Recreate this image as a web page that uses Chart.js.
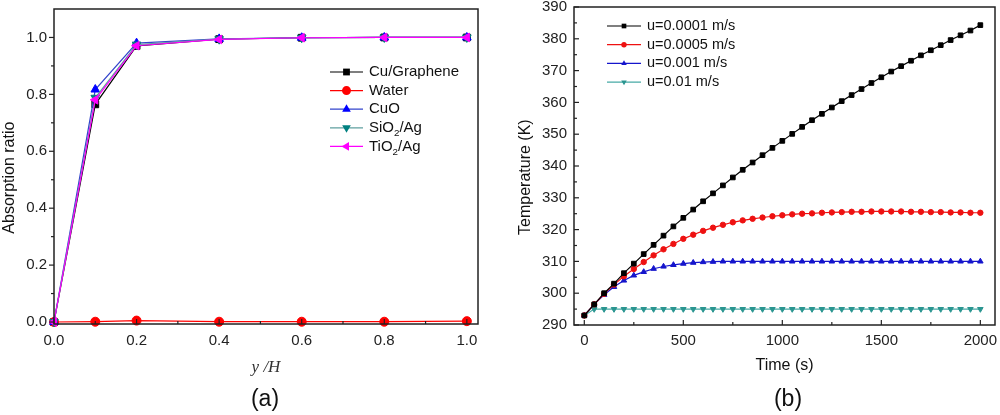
<!DOCTYPE html>
<html>
<head>
<meta charset="utf-8">
<script src="https://cdn.jsdelivr.net/npm/chart.js@4.4.1/dist/chart.umd.min.js"></script>
<style>
  body { margin: 0; background: #fff; }
  #wrap { position: relative; width: 1000px; height: 415px; font-family: "Liberation Sans", Arial, sans-serif; }
  .panel { position: absolute; top: 0; width: 500px; height: 415px; }
  .lab { position: absolute; top: 385px; font-size: 23px; color: #111; transform: translateX(-50%); }
</style>
</head>
<body>
<div id="wrap">
  <div class="panel" style="left:0"><canvas id="chartA"></canvas></div>
  <div class="panel" style="left:500px"><canvas id="chartB"></canvas></div>
  <div class="lab" style="left:265px">(a)</div>
  <div class="lab" style="left:788px">(b)</div>
</div>
<script>
// ---- panel (a): absorption ratio vs y/H
const posA = [0, 0.1, 0.2, 0.4, 0.6, 0.8, 1.0];
const cuGraphene = [0, 0.765, 0.970, 0.994, 0.999, 1.0, 1.0];
const water      = [0, 0.001, 0.005, 0.001, 0.001, 0.001, 0.003];
const cuo        = [0, 0.817, 0.980, 0.995, 0.999, 1.0, 1.0];
const sio2Ag     = [0, 0.788, 0.975, 0.994, 0.999, 1.0, 1.0];
const tio2Ag     = [0, 0.781, 0.971, 0.993, 0.999, 1.0, 1.0];
const namesA = ['Cu/Graphene', 'Water', 'CuO', 'SiO₂/Ag', 'TiO₂/Ag'];
const xTicksA = [0, 0.2, 0.4, 0.6, 0.8, 1.0];
const yTicksA = [0, 0.2, 0.4, 0.6, 0.8, 1.0];

// ---- panel (b): temperature vs time
const times = [0, 50, 100, 150, 200, 250, 300, 350, 400, 450, 500, 550, 600, 650, 700, 750, 800, 850, 900, 950,
  1000, 1050, 1100, 1150, 1200, 1250, 1300, 1350, 1400, 1450, 1500, 1550, 1600, 1650, 1700, 1750, 1800, 1850, 1900, 1950, 2000];
const u00001 = [293, 296.5, 300, 303, 306.3, 309.3, 312.3, 315.2, 318.1, 321, 323.7, 326.3, 328.9, 331.4, 333.9, 336.4, 338.8, 341.1, 343.4, 345.7,
  347.9, 350.1, 352.3, 354.4, 356.4, 358.4, 360.4, 362.3, 364.2, 366.1, 367.9, 369.7, 371.4, 373.1, 374.8, 376.4, 378, 379.6, 381.1, 382.6, 384.3];
const u00005 = [293, 296.5, 299.8, 302.7, 305.3, 307.6, 309.8, 311.9, 313.8, 315.5, 317.1, 318.4, 319.6, 320.6, 321.5, 322.3, 322.9, 323.4, 323.8, 324.2,
  324.5, 324.8, 325, 325.1, 325.3, 325.4, 325.5, 325.6, 325.6, 325.7, 325.7, 325.7, 325.7, 325.6, 325.6, 325.5, 325.5, 325.4, 325.4, 325.3, 325.3];
const u0001 = [293, 296.5, 299.5, 302, 304, 305.6, 306.7, 307.7, 308.4, 308.9, 309.3, 309.6, 309.8, 309.9, 310, 310, 310, 310, 310, 310,
  310, 310, 310, 310, 310, 310, 310, 310, 310, 310, 310, 310, 310, 310, 310, 310, 310, 310, 310, 310, 310];
const u001 = [293, 295, 295, 295, 295, 295, 295, 295, 295, 295, 295, 295, 295, 295, 295, 295, 295, 295, 295, 295,
  295, 295, 295, 295, 295, 295, 295, 295, 295, 295, 295, 295, 295, 295, 295, 295, 295, 295, 295, 295, 295];
const namesB = ['u=0.0001 m/s', 'u=0.0005 m/s', 'u=0.001 m/s', 'u=0.01 m/s'];
const xTicksB = [0, 500, 1000, 1500, 2000];
const yTicksB = [290, 300, 310, 320, 330, 340, 350, 360, 370, 380, 390];

const FONT = '"Liberation Sans", Arial, sans-serif';
const pts = (xs, ys) => xs.map((x, i) => ({ x: x, y: ys[i] }));
const NB = '\u00a0'.repeat(5); // nudges the rotated y titles a little below centre

// frame around plot area + tick marks (major and half-step minor)
const frame = {
  id: 'frame',
  afterDraw(chart, args, o) {
    const { ctx, chartArea: a, scales } = chart;
    ctx.save();
    ctx.strokeStyle = '#222';
    ctx.lineWidth = 1.5;
    ctx.strokeRect(a.left, a.top, a.right - a.left, a.bottom - a.top);
    ctx.lineWidth = 1.2;
    const mark = (ticks, axis, dir) => {
      ticks.forEach((v, i) => {
        const list = [[v, 5]];
        if (i < ticks.length - 1) list.push([(v + ticks[i + 1]) / 2, 3]);
        list.forEach(([t, len]) => {
          ctx.beginPath();
          if (axis === 'x') {
            const p = scales.x.getPixelForValue(t);
            ctx.moveTo(p, a.bottom); ctx.lineTo(p, a.bottom - len * dir);
          } else {
            const p = scales.y.getPixelForValue(t);
            ctx.moveTo(a.left, p); ctx.lineTo(a.left + len * dir, p);
          }
          ctx.stroke();
        });
      });
    };
    mark(o.xt, 'x', 1);
    mark(o.yt, 'y', o.yDir);
    ctx.restore();
  }
};

// legend drawn as line + marker + label, with subscript digits
const lineLegend = {
  id: 'lineLegend',
  afterDraw(chart, args, o) {
    const ctx = chart.ctx;
    ctx.save();
    chart.data.datasets.forEach((ds, i) => {
      const y = o.y + i * o.gap;
      ctx.strokeStyle = ds.borderColor;
      ctx.lineWidth = ds.borderWidth;
      ctx.beginPath();
      ctx.moveTo(o.x, y); ctx.lineTo(o.x + o.len, y);
      ctx.stroke();
      ctx.fillStyle = ds.pointBackgroundColor;
      ctx.strokeStyle = ds.pointBackgroundColor;
      ctx.lineWidth = 1;
      Chart.helpers.drawPoint(ctx, { pointStyle: ds.pointStyle, radius: ds.pointRadius, rotation: ds.pointRotation || 0 }, o.x + o.len / 2, y);
      ctx.fillStyle = '#111';
      ctx.textBaseline = 'middle';
      let tx = o.x + o.len + 6;
      ds.label.split(/(₂)/).forEach(part => {
        if (part === '₂') {
          ctx.font = (o.size * 0.65) + 'px ' + FONT;
          ctx.fillText('2', tx, y + o.size * 0.38);
          tx += ctx.measureText('2').width;
        } else if (part) {
          ctx.font = o.size + 'px ' + FONT;
          ctx.fillText(part, tx, y);
          tx += ctx.measureText(part).width;
        }
      });
    });
    ctx.restore();
  }
};

const fixTicks = list => scale => { scale.ticks = list.map(v => ({ value: v })); };
// fixed axis sizes, no extra room for overhanging labels
const fitX = h => s => { s.height = h; s.paddingLeft = 0; s.paddingRight = 0; };
const fitY = w => s => { s.width = w; s.paddingTop = 0; s.paddingBottom = 0; };

function ds(label, xs, ys, color, style, r, order, rot, lineColor) {
  return {
    label: label, data: pts(xs, ys), order: order,
    borderColor: lineColor || color, borderWidth: 1.2,
    pointStyle: style, pointRadius: r, pointRotation: rot || 0,
    pointBackgroundColor: color, pointBorderColor: color, pointBorderWidth: 1,
    clip: false
  };
}

new Chart(document.getElementById('chartA'), {
  type: 'line',
  data: {
    datasets: [
      ds(namesA[0], posA, cuGraphene, '#000000', 'rect', 4.8, 4),
      ds(namesA[1], posA, water, '#ff0000', 'circle', 4.5, 3),
      ds(namesA[2], posA, cuo, '#0000ff', 'triangle', 5, 2, 0, '#3344cc'),
      ds(namesA[3], posA, sio2Ag, '#008080', 'triangle', 5, 1, 180, '#5f9f9f'),
      ds(namesA[4], posA, tio2Ag, '#ff00ff', 'triangle', 5, 0, -90)
    ]
  },
  options: {
    responsive: true, maintainAspectRatio: false, animation: false, devicePixelRatio: 1,
    layout: { padding: { top: 9, right: 22, left: 0, bottom: 37 } },
    plugins: {
      legend: { display: false }, tooltip: { enabled: false },
      frame: { xt: xTicksA, yt: yTicksA, yDir: -1 },
      lineLegend: { x: 330, y: 72, gap: 18.6, len: 33, size: 15 }
    },
    scales: {
      x: {
        type: 'linear', min: 0, max: 1.027,
        afterBuildTicks: fixTicks(xTicksA),
        afterFit: fitX(54),
        grid: { display: false, drawTicks: false }, border: { display: false },
        ticks: { padding: 8, color: '#222', font: { family: FONT, size: 15 }, callback: v => v.toFixed(1) },
        title: { display: true, text: 'y /H', padding: 0, color: '#333',
          font: { family: '"Liberation Serif", "Times New Roman", serif', size: 17, style: 'italic' } }
      },
      y: {
        min: -0.007, max: 1.1,
        afterBuildTicks: fixTicks(yTicksA),
        afterFit: fitY(54),
        grid: { display: false, drawTicks: false }, border: { display: false },
        ticks: { padding: 7, color: '#222', font: { family: FONT, size: 15 }, callback: v => v.toFixed(1) },
        title: { display: true, text: 'Absorption ratio' + NB, padding: 0, color: '#111', font: { family: FONT, size: 16 } }
      }
    }
  },
  plugins: [frame, lineLegend]
});

new Chart(document.getElementById('chartB'), {
  type: 'line',
  data: {
    datasets: [
      ds(namesB[0], times, u00001, '#000000', 'rect', 3.3, 0),
      ds(namesB[1], times, u00005, '#ee1111', 'circle', 2.7, 1),
      ds(namesB[2], times, u0001, '#1515cc', 'triangle', 3.2, 2),
      ds(namesB[3], times, u001, '#2a9590', 'triangle', 3.2, 3, 180, '#47aaa6')
    ]
  },
  options: {
    responsive: true, maintainAspectRatio: false, animation: false, devicePixelRatio: 1,
    layout: { padding: { top: 7, right: 1, left: 16, bottom: 40 } },
    plugins: {
      legend: { display: false }, tooltip: { enabled: false },
      frame: { xt: xTicksB, yt: yTicksB, yDir: 1 },
      lineLegend: { x: 107, y: 26, gap: 18.7, len: 34, size: 14.5 }
    },
    scales: {
      x: {
        type: 'linear', min: -52, max: 2074,
        afterBuildTicks: fixTicks(xTicksB),
        afterFit: fitX(50),
        grid: { display: false, drawTicks: false }, border: { display: false },
        ticks: { padding: 7, color: '#222', font: { family: FONT, size: 15 }, callback: v => String(v) },
        title: { display: true, text: 'Time (s)', padding: 0, color: '#111', font: { family: FONT, size: 16 } }
      },
      y: {
        min: 290, max: 390,
        afterBuildTicks: fixTicks(yTicksB),
        afterFit: fitY(58),
        grid: { display: false, drawTicks: false }, border: { display: false },
        ticks: { padding: 7, color: '#222', font: { family: FONT, size: 15 }, callback: v => String(v) },
        title: { display: true, text: 'Temperature (K)' + NB, padding: 0, color: '#111', font: { family: FONT, size: 16 } }
      }
    }
  },
  plugins: [frame, lineLegend]
});
</script>
</body>
</html>
